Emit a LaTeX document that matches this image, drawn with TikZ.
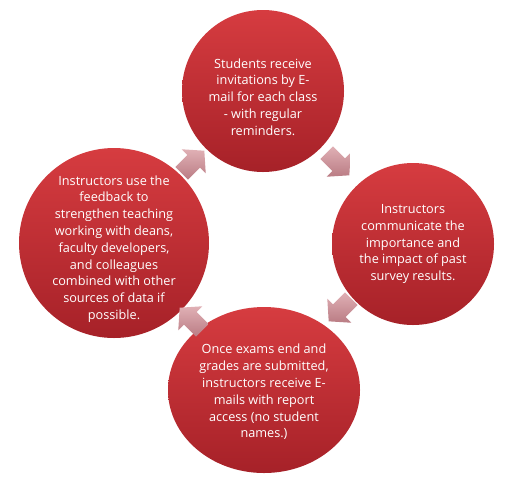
\documentclass[tikz,border=0pt]{standalone}
\usepackage{fontspec}
\setmainfont{Open Sans}
\usetikzlibrary{shapes.geometric}
\definecolor{lightR}{RGB}{214, 60, 64}
\definecolor{darkR} {RGB}{166, 33, 40}
\definecolor{lightP}{RGB}{224, 176, 181}
\definecolor{darkP} {RGB}{186, 124, 132}

\begin{document}
\begin{tikzpicture}[x=1pt, y=-1pt,
  bubble/.style={circle, top color=lightR, bottom color=darkR, inner sep=0pt},
  words/.style={text=white, align=center, font=\fontsize{12.7}{16.8}\selectfont},
  turn/.style={top color=lightP, bottom color=darkP}]
  \useasboundingbox (0,0) rectangle (510,491);

  % the four steps
  \node[bubble, minimum size=162pt] (invite)  at (263, 91) {};
  \node[bubble, minimum size=162pt] (stress)  at (413,244) {};
  \node[bubble, ellipse, minimum width=192pt, minimum height=166pt] (report) at (264,390) {};
  \node[bubble, minimum size=190pt] (improve) at (114,243) {};

  \node[words] (inviteText)  at ([yshift=-6pt]invite.center)
    {Students receive\\invitations by E-\\mail for each class\\- with regular\\reminders.};
  \node[words] (stressText)  at (stress.center)
    {Instructors\\communicate the\\importance and\\the impact of past\\survey results.};
  \node[words] (reportText)  at ([yshift=-2pt]report.center)
    {Once exams end and\\grades are submitted,\\instructors receive E-\\mails with report\\access (no student\\names.)};
  \node[words] (improveText) at ([yshift=-6pt]improve.center)
    {Instructors use the\\feedback to\\strengthen teaching\\working with deans,\\faculty developers,\\and colleagues\\combined with other\\sources of data if\\possible.};

  % arrows between the steps
  \foreach \px/\py/\ang in {193/162/45, 338/164/-45, 340/310/-135, 191/319/135}
    \shade[turn, shift={(\px,\py)}, rotate=\ang]
      (-16,-9) -- (1,-9) -- (1,-17) -- (16,0) -- (1,17) -- (1,9) -- (-16,9) -- cycle;
\end{tikzpicture}
\end{document}
